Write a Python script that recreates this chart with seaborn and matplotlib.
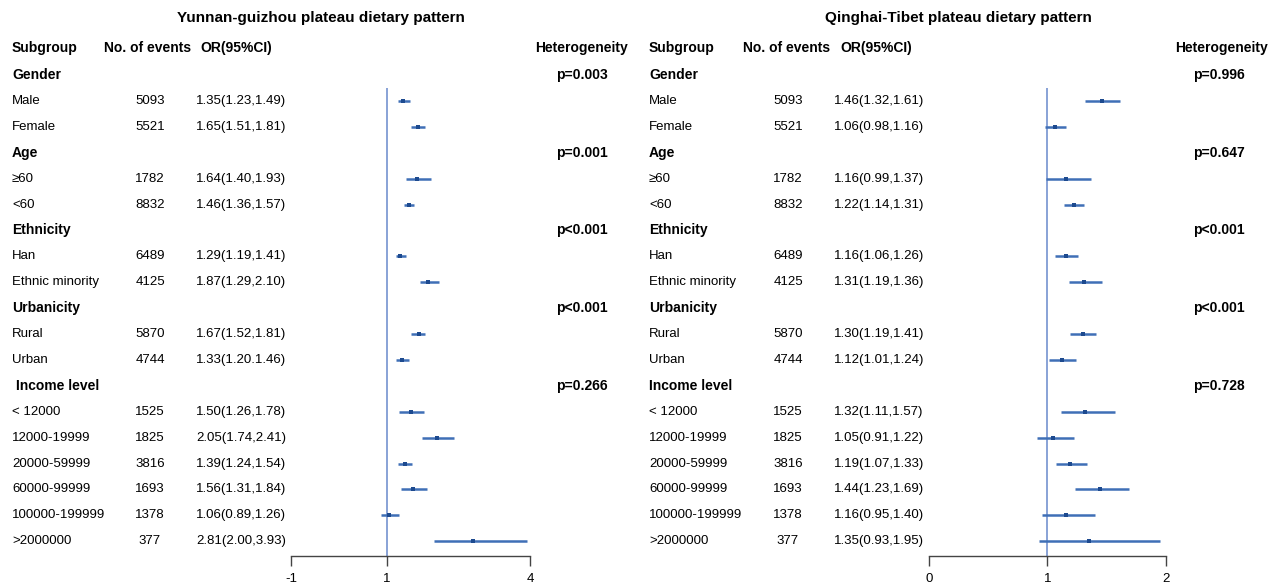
import matplotlib
matplotlib.use("Agg")
import matplotlib.pyplot as plt
import matplotlib.transforms as mtransforms
import seaborn as sns
import pandas as pd
import numpy as np

# ---------------- data ----------------
titles = ["Yunnan-guizhou plateau dietary pattern", "Qinghai-Tibet plateau dietary pattern"]

# row labels (is_header marks a section header row)
row_labels = ["Gender", "Male", "Female", "Age", "\u226560", "<60", "Ethnicity", "Han",
              "Ethnic minority", "Urbanicity", "Rural", "Urban", "Income level",
              "< 12000", "12000-19999", "20000-59999", "60000-99999", "100000-199999", ">2000000"]
is_header = [True, False, False, True, False, False, True, False, False, True, False, False,
             True, False, False, False, False, False, False]
events = ["", "5093", "5521", "", "1782", "8832", "", "6489", "4125", "", "5870", "4744", "",
          "1525", "1825", "3816", "1693", "1378", "377"]

# Yunnan-Guizhou panel
yg_or_text = ["", "1.35(1.23,1.49)", "1.65(1.51,1.81)", "", "1.64(1.40,1.93)", "1.46(1.36,1.57)", "",
              "1.29(1.19,1.41)", "1.87(1.29,2.10)", "", "1.67(1.52,1.81)", "1.33(1.20.1.46)", "",
              "1.50(1.26,1.78)", "2.05(1.74,2.41)", "1.39(1.24,1.54)", "1.56(1.31,1.84)",
              "1.06(0.89,1.26)", "2.81(2.00,3.93)"]
yg_or = [1.35, 1.65, 1.64, 1.46, 1.29, 1.87, 1.67, 1.33, 1.50, 2.05, 1.39, 1.56, 1.06, 2.81]
yg_lo = [1.23, 1.51, 1.40, 1.36, 1.19, 1.69, 1.52, 1.20, 1.26, 1.74, 1.24, 1.31, 0.89, 2.00]
yg_hi = [1.49, 1.81, 1.93, 1.57, 1.41, 2.10, 1.81, 1.46, 1.78, 2.41, 1.54, 1.84, 1.26, 3.93]
yg_p = ["p=0.003", "p=0.001", "p<0.001", "p<0.001", "p=0.266"]

# Qinghai-Tibet panel
qt_or_text = ["", "1.46(1.32,1.61)", "1.06(0.98,1.16)", "", "1.16(0.99,1.37)", "1.22(1.14,1.31)", "",
              "1.16(1.06,1.26)", "1.31(1.19,1.36)", "", "1.30(1.19,1.41)", "1.12(1.01,1.24)", "",
              "1.32(1.11,1.57)", "1.05(0.91,1.22)", "1.19(1.07,1.33)", "1.44(1.23,1.69)",
              "1.16(0.95,1.40)", "1.35(0.93,1.95)"]
qt_or = [1.46, 1.06, 1.16, 1.22, 1.16, 1.31, 1.30, 1.12, 1.32, 1.05, 1.19, 1.44, 1.16, 1.35]
qt_lo = [1.32, 0.98, 0.99, 1.14, 1.06, 1.18, 1.19, 1.01, 1.11, 0.91, 1.07, 1.23, 0.95, 0.93]
qt_hi = [1.61, 1.16, 1.37, 1.31, 1.26, 1.46, 1.41, 1.24, 1.57, 1.22, 1.33, 1.69, 1.40, 1.95]
qt_p = ["p=0.996", "p=0.647", "p<0.001", "p<0.001", "p=0.728"]

yg_ticks = [-1, 1, 4]
qt_ticks = [0, 1, 2]

# ---------------- style ----------------
sns.set_theme(style="white")
plt.rcParams["font.family"] = ["Liberation Sans", "DejaVu Sans"]
plt.rcParams["text.color"] = "black"
plt.rcParams["xtick.color"] = "black"

W, H = 1274, 584
fig = plt.figure(figsize=(W / 100, H / 100), dpi=100)

line_col = "#3f6fb6"
pt_col = "#1d4a8f"
ref_col = "#7f9bd3"

panels = [
    dict(title=titles[0], or_text=yg_or_text, est=yg_or, lo=yg_lo, hi=yg_hi, p=yg_p, ticks=yg_ticks,
         ax_px=(291, 530), xoff=0, title_x=321, n_x=150, or_x=196, het_x=582, p_x=582,
         sub_x=12, ev_x=104, orh_x=200),
    dict(title=titles[1], or_text=qt_or_text, est=qt_or, lo=qt_lo, hi=qt_hi, p=qt_p, ticks=qt_ticks,
         ax_px=(929, 1166), xoff=637, title_x=958, n_x=788, or_x=834, het_x=1221, p_x=1219,
         sub_x=649, ev_x=743, orh_x=840),
]

top_px, bot_px = 62, 556
row0_px, row_step = 75, 25.9
n_rows = len(row_labels)

for pn in panels:
    x0, x1 = pn["ax_px"]
    ax = fig.add_axes([x0 / W, 1 - bot_px / H, (x1 - x0) / W, (bot_px - top_px) / H])
    ylo = (bot_px - row0_px) / row_step
    yhi = (top_px - row0_px) / row_step
    ax.set_ylim(ylo, yhi)
    ax.set_xlim(pn["ticks"][0], pn["ticks"][-1])
    ax.patch.set_alpha(0)

    data_rows = [i for i in range(n_rows) if not is_header[i]]
    df = pd.DataFrame({"row": data_rows, "est": pn["est"], "lo": pn["lo"], "hi": pn["hi"]})

    ax.vlines(1, 0.5, ylo, color=ref_col, lw=1.3, zorder=1)
    ax.hlines(df["row"], df["lo"], df["hi"], color=line_col, lw=1.8, zorder=2)
    sns.scatterplot(data=df, x="est", y="row", marker="s", s=5, color=pt_col,
                    edgecolor=pt_col, linewidth=0, ax=ax, zorder=3, legend=False)
    ax.set_xlabel("")
    ax.set_ylabel("")
    ax.set_yticks([])
    ax.set_xticks(pn["ticks"])
    ax.set_xticklabels([str(t) for t in pn["ticks"]], fontsize=9.5)
    for s in ["top", "right", "left"]:
        ax.spines[s].set_visible(False)
    ax.spines["bottom"].set_color("#444444")
    ax.spines["bottom"].set_linewidth(1.0)
    ax.tick_params(axis="x", direction="out", length=7, width=1.0, color="#444444",
                   pad=5, bottom=True, labelcolor="black")
    for c in ax.collections:
        c.set_clip_on(False)

    tr = mtransforms.blended_transform_factory(fig.transFigure, ax.transData)
    fx = lambda px: px / W

    # title and column headers
    fig.text(fx(pn["title_x"]), 1 - 18 / H, pn["title"], ha="center", va="center",
             fontsize=11, fontweight="bold")
    hy = 1 - 48 / H
    fig.text(fx(pn["sub_x"]), hy, "Subgroup", ha="left", va="center", fontsize=10, fontweight="bold")
    fig.text(fx(pn["ev_x"]), hy, "No. of events", ha="left", va="center", fontsize=10, fontweight="bold")
    fig.text(fx(pn["orh_x"]), hy, "OR(95%CI)", ha="left", va="center", fontsize=10, fontweight="bold")
    fig.text(fx(pn["het_x"]), hy, "Heterogeneity", ha="center", va="center", fontsize=10, fontweight="bold")

    k = 0
    for i in range(n_rows):
        if is_header[i]:
            lab = row_labels[i]
            xx = pn["sub_x"]
            if lab == "Income level" and pn["xoff"] == 0:
                xx += 4
            ax.text(fx(xx), i, lab, transform=tr, ha="left", va="center", fontsize=10,
                    fontweight="bold")
            ax.text(fx(pn["p_x"]), i, pn["p"][k], transform=tr, ha="center", va="center",
                    fontsize=10, fontweight="bold")
            k += 1
        else:
            ax.text(fx(pn["sub_x"]), i, row_labels[i], transform=tr, ha="left", va="center",
                    fontsize=9.5)
            ax.text(fx(pn["n_x"]), i, events[i], transform=tr, ha="center", va="center",
                    fontsize=9.5)
            ax.text(fx(pn["or_x"]), i, pn["or_text"][i], transform=tr, ha="left", va="center",
                    fontsize=9.5)

fig.savefig("out.png", dpi=100, facecolor="white")
